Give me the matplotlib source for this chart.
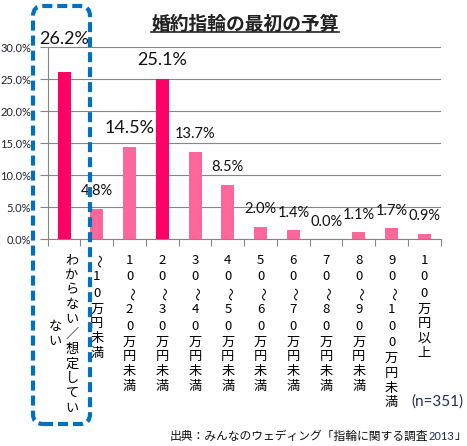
import matplotlib
matplotlib.use("Agg")
import matplotlib.pyplot as plt
from matplotlib.patches import FancyBboxPatch
from matplotlib.lines import Line2D

title = "婚約指輪の最初の予算"
categories = [
    "わからない／想定してい\nない",
    "～10万円未満",
    "10～20万円未満",
    "20～30万円未満",
    "30～40万円未満",
    "40～50万円未満",
    "50～60万円未満",
    "60～70万円未満",
    "70～80万円未満",
    "80～90万円未満",
    "90～100万円未満",
    "100万円以上",
]
shares = [26.2, 4.8, 14.5, 25.1, 13.7, 8.5, 2.0, 1.4, 0.0, 1.1, 1.7, 0.9]
highlight = [0, 3]
big_labels = [0, 2, 3]
y_ticks = [0, 5, 10, 15, 20, 25, 30]
n_note = "(n=351)"
source = "出典：みんなのウェディング「指輪に関する調査"
source_year = "2013"
source_end = "」"

JP = ["Noto Sans CJK JP", "DejaVu Sans"]
NUM = ["Lato", "DejaVu Sans"]
DARK = "#FF0066"
LIGHT = "#FF6699"
GRID = "#868686"
NAVY = "#1f2f55"


def main():
    fig = plt.figure(figsize=(4.67, 4.46), dpi=100)
    ax = fig.add_axes([47.7 / 467, 206.7 / 446, 393 / 467, 192 / 446])
    plot_bars(ax)
    for i, text in enumerate(categories):
        vertical_label(ax, i, text)
    decorate(fig)
    fig.savefig("out.png", dpi=100)


def plot_bars(ax):
    x = range(len(shares))
    colors = [DARK if i in highlight else LIGHT for i in x]
    ax.bar(x, shares, width=0.4, color=colors, zorder=3)
    for i, v in enumerate(shares):
        big = i in big_labels
        off = 32.5 if i == 0 else (18.5 if big else 17.5)
        ax.annotate(f"{v:.1f}%", xy=(i, v), xytext=(0, off),
                    textcoords="offset pixels", ha="center", va="center",
                    fontsize=13 if big else 10.5, family=NUM, color="#111111",
                    annotation_clip=False, zorder=4)

    ax.set_xlim(-0.5, len(shares) - 0.5)
    ax.set_ylim(0, 30)
    ax.set_yticks(y_ticks)
    ax.set_yticklabels([f"{t:.1f}%" for t in y_ticks], family=NUM,
                       fontsize=8, color="#222233")
    ax.set_xticks([i - 0.5 for i in range(len(shares) + 1)])
    ax.set_xticklabels([])
    ax.tick_params(axis="x", length=5, color=GRID, width=0.8)
    ax.tick_params(axis="y", length=6, color=GRID, width=0.8, pad=6)
    ax.grid(axis="y", color=GRID, linewidth=0.8, zorder=0)
    ax.set_axisbelow(True)
    for side in ("top", "right"):
        ax.spines[side].set_visible(False)
    for side in ("left", "bottom"):
        ax.spines[side].set_color(GRID)
        ax.spines[side].set_linewidth(0.8)


def vertical_label(ax, i, text):
    cols = text.split("\n")
    if len(cols) == 1:
        specs = [(cols[0], 0, 21)]
    else:
        specs = [(cols[0], 8, 21), (cols[1], -9, 87)]
    for col, dx, top in specs:
        y = top
        prev = None
        for ch in col:
            h = 16.5 if (ch.isascii() or ch == "～") else 14.8
            if prev is not None:
                y += (prev + h) / 2
            prev = h
            ax.annotate(ch, xy=(i, 0), xycoords=("data", "axes fraction"),
                        xytext=(dx, -y), textcoords="offset pixels",
                        ha="center", va="center", fontsize=9.5, family=JP,
                        rotation=-90 if ch == "～" else 0,
                        annotation_clip=False)


def decorate(fig):
    t = fig.text(245 / 467, 1 - 24 / 446, title, ha="center", va="center",
                 fontsize=13.5, fontweight="bold", family=JP, color="#222222")
    fig.text(463 / 467, 1 - 402 / 446, n_note, ha="right", va="center",
             fontsize=11, family=NUM, color=NAVY)

    fig.canvas.draw()
    inv = fig.transFigure.inverted()
    bb = t.get_window_extent().transformed(inv)
    fig.add_artist(Line2D([bb.x0, bb.x1], [bb.y0 + 0.004, bb.y0 + 0.004],
                          transform=fig.transFigure, color="#222222", lw=1.2))

    # source line, built from the right: bracket, navy year, main text
    ys = 1 - 436 / 446
    s3 = fig.text(466 / 467, ys, source_end, ha="right", va="center",
                  fontsize=8.5, family=JP, color="#111111")
    fig.canvas.draw()
    x3 = s3.get_window_extent().transformed(inv).x0
    s2 = fig.text(x3, ys, source_year, ha="right", va="center",
                  fontsize=8, family=NUM, color=NAVY)
    fig.canvas.draw()
    x2 = s2.get_window_extent().transformed(inv).x0
    fig.text(x2, ys, source, ha="right", va="center",
             fontsize=8.5, family=JP, color="#111111")

    box = FancyBboxPatch((0.33, 0.22), 0.57, 4.18,
                         boxstyle="round,pad=0,rounding_size=0.1",
                         transform=fig.dpi_scale_trans, fill=False,
                         edgecolor="#0070C0", linewidth=3,
                         linestyle=(0, (2.4, 1.2)), zorder=10)
    fig.add_artist(box)


if __name__ == "__main__":
    main()
